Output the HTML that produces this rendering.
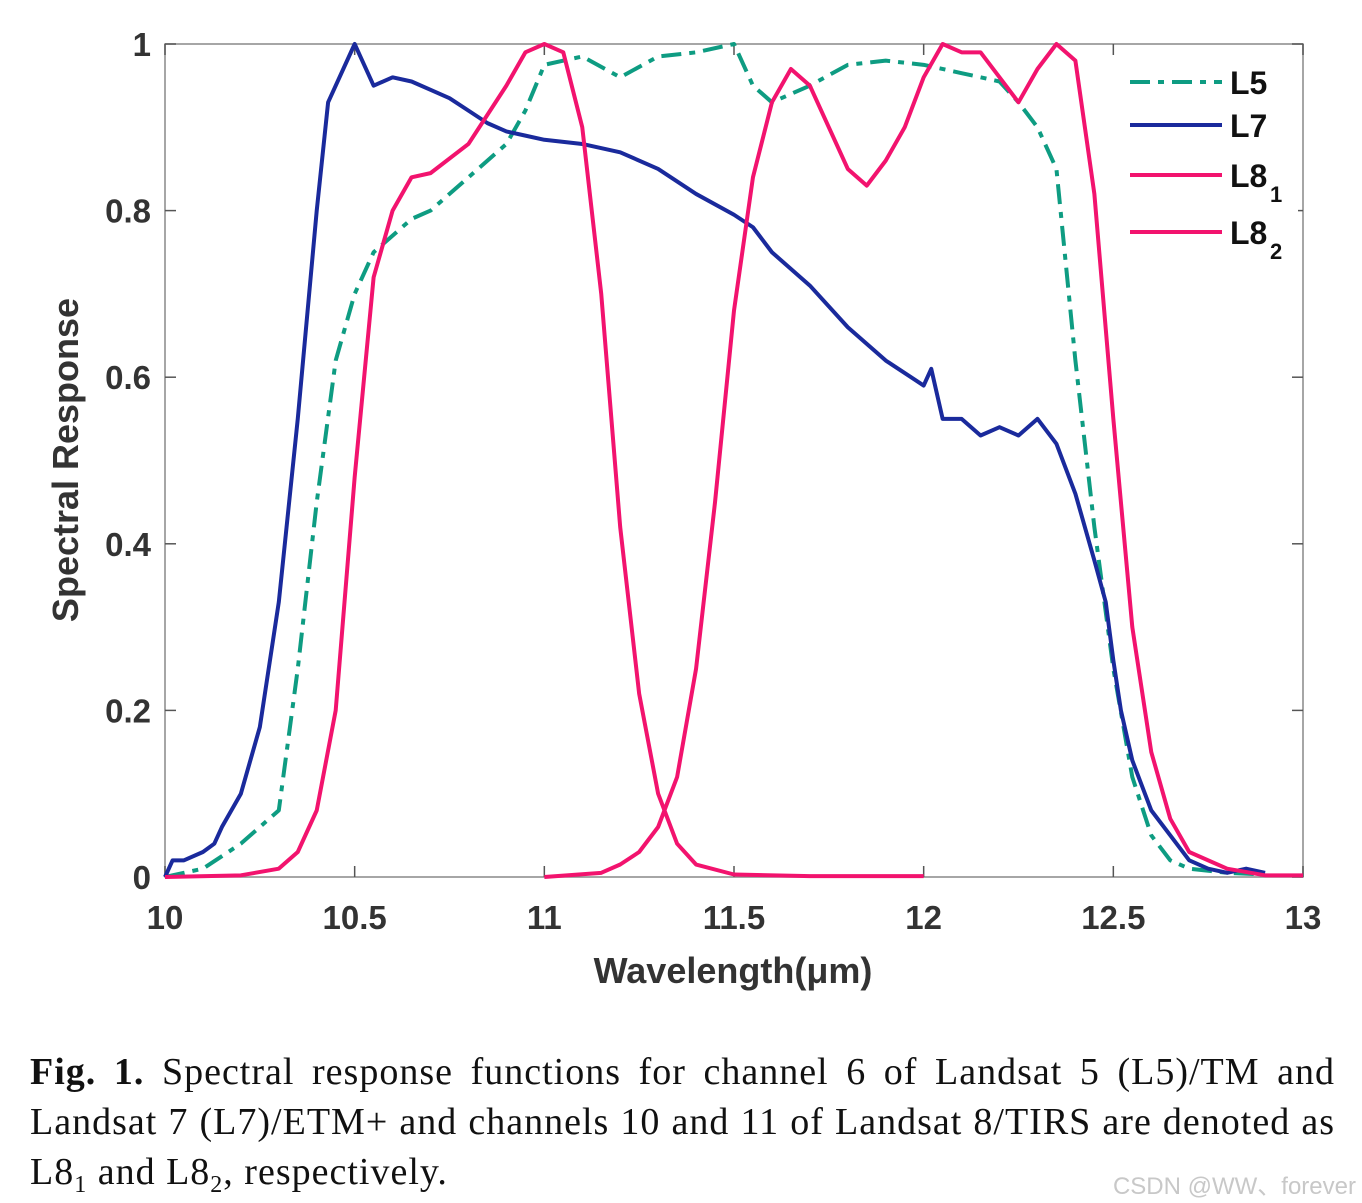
<!DOCTYPE html>
<html><head><meta charset="utf-8">
<style>
body{margin:0;width:1362px;height:1203px;background:#fff;overflow:hidden;position:relative}
svg{position:absolute;left:0;top:0}
.cap{position:absolute;left:30px;width:1305px;font-family:"Liberation Serif",serif;font-size:38px;letter-spacing:1px;line-height:44px;height:44px;color:#111;white-space:nowrap}
.j{text-align:justify;text-align-last:justify}
.cap sub{font-size:24px;vertical-align:baseline;position:relative;top:8px}
.wm{position:absolute;right:6px;top:1166px;font-family:"Liberation Sans",sans-serif;font-size:24px;color:#c8c8c8}
</style></head><body>
<svg id="chart" width="1362" height="1040"></svg>
<div>
<div class="cap j" style="top:1050px"><b>Fig. 1.</b> Spectral response functions for channel 6 of Landsat 5 (L5)/TM and</div>
<div class="cap j" style="top:1100px">Landsat 7 (L7)/ETM+ and channels 10 and 11 of Landsat 8/TIRS are denoted as</div>
<div class="cap" style="top:1150px">L8<sub>1</sub> and L8<sub>2</sub>, respectively.</div>
</div>
<div class="wm">CSDN @WW、forever</div>
<script>
const xTicks=[10,10.5,11,11.5,12,12.5,13];
const xTickLabels=["10","10.5","11","11.5","12","12.5","13"];
const yTicks=[0,0.2,0.4,0.6,0.8,1];
const yTickLabels=["0","0.2","0.4","0.6","0.8","1"];
const l7X=[10,10.02,10.05,10.1,10.13,10.15,10.2,10.25,10.3,10.35,10.4,10.43,10.47,10.5,10.52,10.55,10.6,10.65,10.7,10.75,10.8,10.85,10.9,10.95,11,11.1,11.2,11.3,11.4,11.5,11.55,11.6,11.7,11.8,11.9,12,12.02,12.05,12.1,12.15,12.2,12.25,12.3,12.35,12.4,12.45,12.48,12.5,12.52,12.55,12.6,12.65,12.7,12.75,12.8,12.85,12.9];
const l7Y=[0,0.02,0.02,0.03,0.04,0.06,0.1,0.18,0.33,0.55,0.8,0.93,0.97,1,0.98,0.95,0.96,0.955,0.945,0.935,0.92,0.905,0.895,0.89,0.885,0.88,0.87,0.85,0.82,0.795,0.78,0.75,0.71,0.66,0.62,0.59,0.61,0.55,0.55,0.53,0.54,0.53,0.55,0.52,0.46,0.38,0.33,0.26,0.2,0.14,0.08,0.05,0.02,0.01,0.005,0.01,0.005];
const l5X=[10,10.1,10.2,10.3,10.35,10.4,10.45,10.5,10.55,10.6,10.65,10.7,10.8,10.9,10.95,11,11.1,11.2,11.3,11.4,11.5,11.55,11.6,11.7,11.8,11.9,12,12.1,12.2,12.25,12.3,12.35,12.4,12.45,12.5,12.55,12.6,12.65,12.7,12.8,12.9];
const l5Y=[0,0.01,0.04,0.08,0.25,0.45,0.62,0.7,0.75,0.77,0.79,0.8,0.84,0.88,0.92,0.975,0.985,0.96,0.985,0.99,1,0.95,0.93,0.95,0.975,0.98,0.975,0.965,0.955,0.93,0.9,0.85,0.62,0.42,0.25,0.12,0.05,0.02,0.01,0.005,0.003];
const l81X=[10,10.2,10.3,10.35,10.4,10.45,10.5,10.55,10.6,10.65,10.7,10.8,10.9,10.95,11,11.05,11.1,11.15,11.2,11.25,11.3,11.35,11.4,11.5,11.7,12];
const l81Y=[0,0.002,0.01,0.03,0.08,0.2,0.48,0.72,0.8,0.84,0.845,0.88,0.95,0.99,1,0.99,0.9,0.7,0.42,0.22,0.1,0.04,0.015,0.003,0.001,0.001];
const l82X=[11,11.15,11.2,11.25,11.3,11.35,11.4,11.45,11.5,11.55,11.6,11.65,11.7,11.75,11.8,11.85,11.9,11.95,12,12.05,12.1,12.15,12.2,12.25,12.3,12.35,12.4,12.45,12.5,12.55,12.6,12.65,12.7,12.8,12.9,13];
const l82Y=[0,0.005,0.015,0.03,0.06,0.12,0.25,0.45,0.68,0.84,0.93,0.97,0.95,0.9,0.85,0.83,0.86,0.9,0.96,1,0.99,0.99,0.96,0.93,0.97,1,0.98,0.82,0.55,0.3,0.15,0.07,0.03,0.01,0.002,0.002];

const L=165,R=1303,T=44,B=877;
const sx=v=>L+(v-10)/3*(R-L);
const sy=v=>B-v*(B-T);
const svg=document.getElementById('chart');
const NS='http://www.w3.org/2000/svg';
function mk(tag,attrs){const e=document.createElementNS(NS,tag);for(const k in attrs)e.setAttribute(k,attrs[k]);svg.appendChild(e);return e;}
const box=mk('rect',{x:L,y:T,width:R-L,height:B-T,fill:'#fff',stroke:'#888','stroke-width':1.5});


const F='"Liberation Sans",sans-serif';
xTicks.forEach((v,i)=>{
  const x=sx(v);
  mk('line',{x1:x,y1:B,x2:x,y2:B-11,stroke:'#555','stroke-width':1.5});
  mk('line',{x1:x,y1:T,x2:x,y2:T+11,stroke:'#555','stroke-width':1.5});
  const t=mk('text',{x:x,y:B+52,'text-anchor':'middle','font-family':F,'font-size':33,'font-weight':'bold',fill:'#333'});
  t.textContent=xTickLabels[i];
  
  
});
yTicks.forEach((v,i)=>{
  const y=sy(v);
  mk('line',{x1:L,y1:y,x2:L+11,y2:y,stroke:'#555','stroke-width':1.5});
  mk('line',{x1:R,y1:y,x2:R-11,y2:y,stroke:'#555','stroke-width':1.5});
  const t=mk('text',{x:L-14,y:y+12,'text-anchor':'end','font-family':F,'font-size':33,'font-weight':'bold',fill:'#333'});
  t.textContent=yTickLabels[i];
  
  
});
function line(xs,ys,color,dash,name){
  const p=mk('polyline',{points:xs.map((x,i)=>sx(x)+','+sy(ys[i])).join(' '),fill:'none',stroke:color,'stroke-width':4,'stroke-linejoin':'round'});
  if(dash)p.setAttribute('stroke-dasharray',dash);
  
  
}
line(l5X,l5Y,'#0e9c82','20,8,6,8','series-l5');
line(l7X,l7Y,'#1a2a9c',null,'series-l7');
line(l81X,l81Y,'#f2136e',null,'series-l8-1');
line(l82X,l82Y,'#f2136e',null,'series-l8-2');
const lg=mk('rect',{x:1118,y:58,width:180,height:210,fill:'#fff'});


const leg=[['L5','',82,'#0e9c82','20,8,6,8'],['L7','',125,'#1a2a9c',null],['L8','1',175,'#f2136e',null],['L8','2',232,'#f2136e',null]];
leg.forEach(e=>{
  const l=mk('line',{x1:1130,y1:e[2],x2:1222,y2:e[2],stroke:e[3],'stroke-width':4});
  if(e[4])l.setAttribute('stroke-dasharray',e[4]);
  const t=mk('text',{x:1230,y:e[2]+12,'font-family':F,'font-size':32,'font-weight':'bold',fill:'#111'});
  t.textContent=e[0];
  
  
  if(e[1]){const s=mk('text',{x:1270,y:e[2]+27,'font-family':F,'font-size':22,'font-weight':'bold',fill:'#111'});s.textContent=e[1];}
});
const xl=mk('text',{x:733,y:983,'text-anchor':'middle','font-family':F,'font-size':36,'font-weight':'bold',fill:'#333'});
xl.textContent='Wavelength(μm)';


const yl=mk('text',{x:0,y:0,transform:'translate(78,460) rotate(-90)','text-anchor':'middle','font-family':F,'font-size':36,'font-weight':'bold',fill:'#333'});
yl.textContent='Spectral Response';


</script>
</body></html>
